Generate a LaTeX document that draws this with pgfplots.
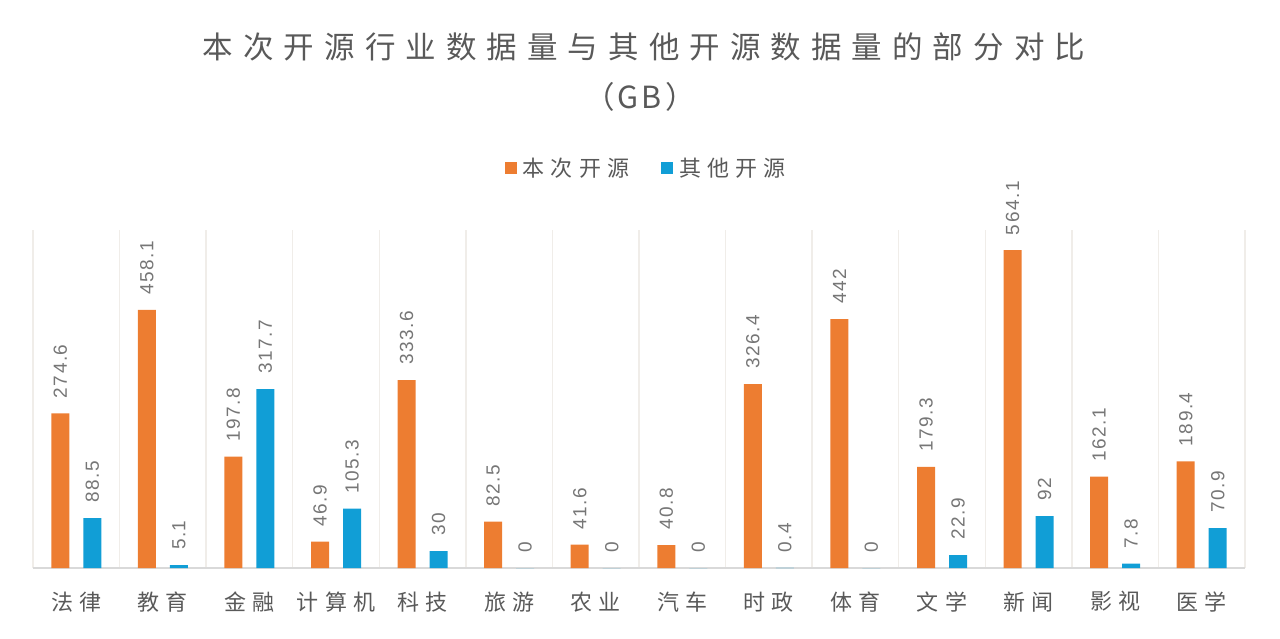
\documentclass[border=0pt]{standalone}
\usepackage{fontspec}
\setmainfont{Liberation Sans}
\newfontfamily\numfont[LetterSpace=8]{Liberation Sans}
\newfontfamily\cjkticks[LetterSpace=28]{Noto Sans CJK SC}
\newfontfamily\cjktitle[LetterSpace=33]{Noto Sans CJK SC}
\newfontfamily\cjkgb[LetterSpace=10]{Noto Sans CJK SC}
\usepackage{pgfplots}
\pgfplotsset{compat=1.18}
\definecolor{orangebar}{RGB}{237,125,49}
\definecolor{bluebar}{RGB}{17,158,214}
\definecolor{titlegray}{RGB}{89,89,89}
\definecolor{labelgray}{RGB}{118,118,118}
\definecolor{gridc}{RGB}{240,237,233}
\definecolor{axisc}{RGB}{217,217,217}

\begin{document}
\begin{tikzpicture}
\useasboundingbox (0,0) rectangle (1280pt,638pt);
\node[font=\cjktitle\fontsize{30.5pt}{34pt}\selectfont, text=titlegray] at (644pt,591pt) {本次开源行业数据量与其他开源数据量的部分对比};
\node[font=\cjkgb\fontsize{30.5pt}{34pt}\selectfont, text=titlegray] at (640pt,541pt) {（GB）};
\begin{axis}[
  at={(33pt,70pt)}, anchor=south west,
  scale only axis, width=1212pt, height=338pt,
  xmin=0.5, xmax=14.5, ymin=0, ymax=600,
  ybar=14pt, bar width=18pt,
  axis y line=none,
  axis x line*=bottom,
  x axis line style={-, draw=axisc, line width=2pt},
  xtick={1,...,14},
  xticklabels={法律,教育,金融,计算机,科技,旅游,农业,汽车,时政,体育,文学,新闻,影视,医学},
  major tick length=0pt,
  minor xtick={0.5,1.5,...,14.5},
  minor tick length=0pt,
  minor x grid style={draw=gridc, line width=1.5pt},
  xminorgrids=true,
  xticklabel style={font=\cjkticks\fontsize{22pt}{26pt}\selectfont, text=titlegray, yshift=-20pt},
  /pgf/number format/assume math mode=true,
  nodes near coords,
  every node near coord/.append style={rotate=90, anchor=west, inner xsep=15pt,
    font=\numfont\fontsize{19pt}{22pt}\selectfont, text=labelgray},
  legend columns=2,
  legend style={at={(0.506,1.183)}, anchor=center, draw=none, fill=none,
    font=\cjkticks\fontsize{22pt}{26pt}\selectfont, text=titlegray,
    /tikz/every odd column/.append style={column sep=4pt},
    /tikz/every even column/.append style={column sep=30pt}},
  legend image code/.code={\fill[#1] (0pt,-6pt) rectangle (12pt,6pt);},
]
\addplot[fill=orangebar, draw=none] coordinates {
  (1,274.6) (2,458.1) (3,197.8) (4,46.9) (5,333.6) (6,82.5) (7,41.6)
  (8,40.8) (9,326.4) (10,442) (11,179.3) (12,564.1) (13,162.1) (14,189.4)
};
\addplot[fill=bluebar, draw=none] coordinates {
  (1,88.5) (2,5.1) (3,317.7) (4,105.3) (5,30) (6,0) (7,0)
  (8,0) (9,0.4) (10,0) (11,22.9) (12,92) (13,7.8) (14,70.9)
};
\legend{本次开源,其他开源}
\end{axis}
\end{tikzpicture}
\end{document}
